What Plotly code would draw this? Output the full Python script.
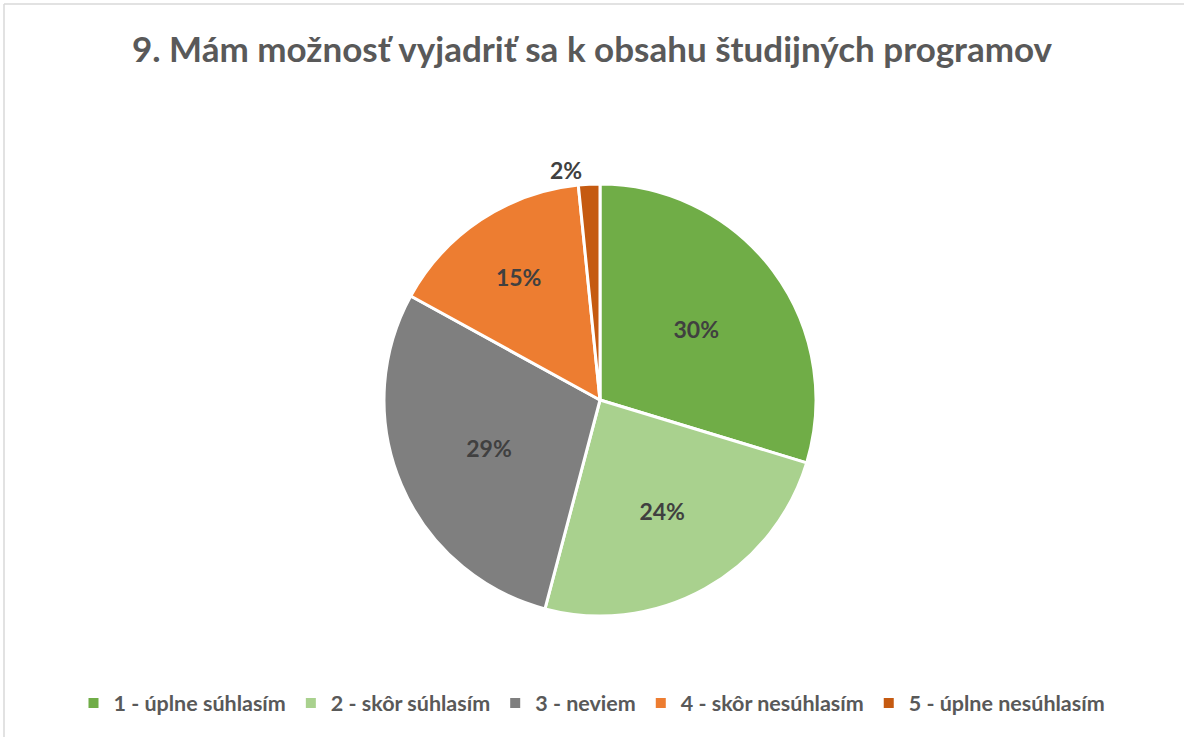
import plotly.graph_objects as go

categories = ["1 - úplne súhlasím", "2 - skôr súhlasím", "3 - neviem", "4 - skôr nesúhlasím", "5 - úplne nesúhlasím"]
values = [29.7, 24.4, 28.9, 15.4, 1.6]
colors = ["#70AD47", "#A9D18E", "#7F7F7F", "#ED7D31", "#C55A11"]
title_text = "9. Mám možnosť vyjadriť sa k obsahu študijných programov"

W, H = 1184, 737
FONT = "Lato, 'Open Sans', sans-serif"

fig = go.Figure(go.Pie(
    labels=categories,
    values=values,
    sort=False,
    direction="clockwise",
    rotation=0,
    marker=dict(colors=colors, line=dict(color="white", width=3)),
    texttemplate="<b>%{percent:.0%}</b>",
    textposition=["inside", "inside", "inside", "inside", "outside"],
    insidetextorientation="horizontal",
    textfont=dict(family=FONT, size=23, color="#404040"),
    outsidetextfont=dict(family=FONT, size=23, color="#404040"),
    hoverinfo="label+percent",
    domain=dict(x=[(384) / W, (816) / W], y=[1 - 616 / H, 1 - 184 / H]),
))

fig.update_layout(
    width=W, height=H,
    margin=dict(l=0, r=0, t=0, b=0),
    paper_bgcolor="white",
    plot_bgcolor="white",
    title=dict(text="<b>" + title_text + "</b>", x=0.5, xanchor="center",
               y=1 - 50 / H, yanchor="middle",
               font=dict(family=FONT, size=35, color="#595959")),
    showlegend=True,
    legend=dict(orientation="h", x=0.5, xanchor="center", y=1 - 703 / H, yanchor="middle",
                font=dict(family=FONT, size=21.5, color="#595959", weight="bold"),
                itemsizing="constant", traceorder="normal"),
    shapes=[
        dict(type="line", xref="paper", yref="paper", x0=4 / W, x1=1.0, y0=1 - 4 / H, y1=1 - 4 / H,
             line=dict(color="#D9D9D9", width=1.5)),
        dict(type="line", xref="paper", yref="paper", x0=4 / W, x1=4 / W, y0=0, y1=1 - 4 / H,
             line=dict(color="#D9D9D9", width=1.5)),
    ],
)

fig.write_html("out.html", config={"displayModeBar": False},
               post_script="document.body.style.margin='0px';document.body.style.padding='0px';")
